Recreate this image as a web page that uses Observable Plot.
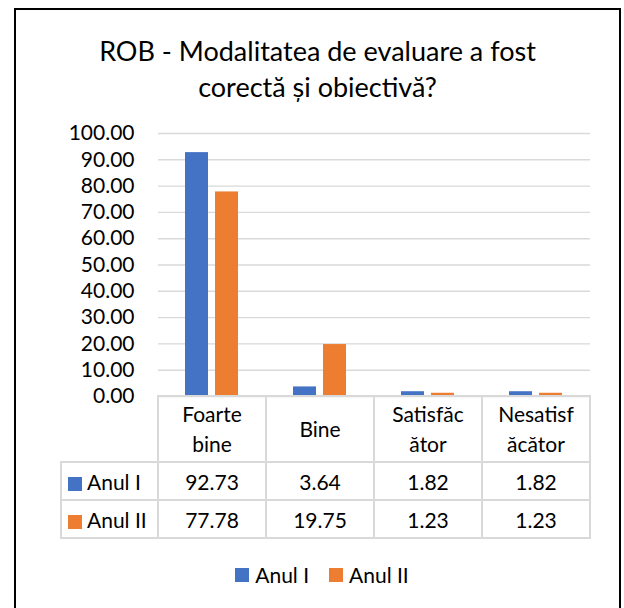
<!DOCTYPE html>
<html>
<head>
<meta charset="utf-8">
<script src="https://cdn.jsdelivr.net/npm/d3@7"></script>
<script src="https://cdn.jsdelivr.net/npm/@observablehq/plot@0.6"></script>
<style>
  html, body { margin: 0; padding: 0; background: #fff; }
  body { width: 624px; height: 608px; overflow: hidden; position: relative; font-family: Lato, "Noto Sans", sans-serif; color: #000; }
  #frame { position: absolute; left: 14px; top: 8px; width: 607px; height: 640px; border: 2px solid #000; box-sizing: border-box; }
  .title { position: absolute; left: 16px; width: 603px; text-align: center; font-size: 27px; line-height: 34px; white-space: nowrap; }
  #chart { position: absolute; left: 0; top: 0; }
  #chart svg { overflow: visible; }
  #tbl { position: absolute; border-collapse: collapse; table-layout: fixed; font-size: 21px; }
  #tbl td { border: 2px solid #d9d9d9; padding: 0; text-align: center; vertical-align: middle; box-sizing: border-box; }
  #tbl td.blank { border-top: none; border-left: none; }
  #tbl td.key { text-align: left; padding-left: 6px; white-space: nowrap; }
  #tbl .hdr { line-height: 30px; }
  .sw { display: inline-block; width: 14px; height: 14px; margin-right: 5px; vertical-align: -1px; }
  #legend { position: absolute; left: 10px; width: 624px; top: 563px; display: flex; justify-content: center; align-items: center; font-size: 21px; line-height: 24px; }
  #legend .item { display: flex; align-items: center; margin: 0 10px; }
  #legend .sw { margin-right: 6px; vertical-align: 0; }
</style>
</head>
<body>
<div id="frame"></div>
<div class="title" style="top:34px">ROB - Modalitatea de evaluare a fost</div>
<div class="title" style="top:70px">corectă și obiectivă?</div>
<div id="chart"></div>
<table id="tbl"></table>
<div id="legend"></div>
<script>
const categories = ["Foarte bine", "Bine", "Satisfăcător", "Nesatisfăcător"];
const headerLines = [["Foarte", "bine"], ["Bine"], ["Satisfăc", "ător"], ["Nesatisf", "ăcător"]];
const series = ["Anul I", "Anul II"];
const anulI = [92.73, 3.64, 1.82, 1.82];
const anulII = [77.78, 19.75, 1.23, 1.23];
const seriesValues = [anulI, anulII];
const colors = ["#4472C4", "#ED7D31"];
const yTicks = [0, 10, 20, 30, 40, 50, 60, 70, 80, 90, 100];

const data = categories.flatMap((c, i) =>
  series.map((s, j) => ({cat: c, series: s, value: seriesValues[j][i]}))
);

const plot = Plot.plot({
  width: 624,
  height: 397,
  marginTop: 133,
  marginBottom: 1,
  marginLeft: 157,
  marginRight: 33,
  style: {fontFamily: "Lato, 'Noto Sans', sans-serif", fontSize: "21px", color: "#000", background: "transparent", overflow: "visible"},
  fx: {domain: categories, axis: null, paddingInner: 0, paddingOuter: 0, label: null},
  x: {domain: series, axis: null, paddingInner: 0.2258, paddingOuter: 0.887},
  y: {domain: [0, 100], axis: null},
  color: {domain: series, range: colors},
  marks: [
    Plot.gridY(yTicks, {stroke: "#d9d9d9", strokeOpacity: 1, strokeWidth: 1.4}),
    Plot.barY(data, {fx: "cat", x: "series", y: "value", fill: "series"}),
    Plot.axisY(yTicks, {tickSize: 0, tickPadding: 24, tickFormat: d3.format(".2f"), label: null, fill: "#000", fontSize: 21})
  ]
});
document.getElementById("chart").appendChild(plot);

// table aligned to the fx scale
const fx = plot.scale("fx");
const band = fx.bandwidth;
const x0 = fx.apply(categories[0]);
const tableLeft = 61;
const keyWidth = x0 - tableLeft;
const tbl = document.getElementById("tbl");
tbl.style.left = (tableLeft - 1) + "px";
tbl.style.top = (395) + "px";
tbl.style.width = (keyWidth + band * categories.length) + "px";
const colgroup = document.createElement("colgroup");
[keyWidth, ...categories.map(() => band)].forEach(w => {
  const col = document.createElement("col");
  col.style.width = w + "px";
  colgroup.appendChild(col);
});
tbl.appendChild(colgroup);

const hr = document.createElement("tr");
hr.style.height = "66px";
const blank = document.createElement("td");
blank.className = "blank";
hr.appendChild(blank);
headerLines.forEach(lines => {
  const td = document.createElement("td");
  td.className = "hdr";
  td.innerHTML = lines.join("<br>");
  hr.appendChild(td);
});
tbl.appendChild(hr);

series.forEach((s, j) => {
  const tr = document.createElement("tr");
  tr.style.height = "38px";
  const key = document.createElement("td");
  key.className = "key";
  key.innerHTML = `<span class="sw" style="background:${colors[j]}"></span>${s}`;
  tr.appendChild(key);
  seriesValues[j].forEach(v => {
    const td = document.createElement("td");
    td.textContent = d3.format(".2f")(v);
    tr.appendChild(td);
  });
  tbl.appendChild(tr);
});

// legend
const legend = document.getElementById("legend");
series.forEach((s, j) => {
  const item = document.createElement("div");
  item.className = "item";
  item.innerHTML = `<span class="sw" style="background:${colors[j]}"></span><span>${s}</span>`;
  legend.appendChild(item);
});
</script>
</body>
</html>
